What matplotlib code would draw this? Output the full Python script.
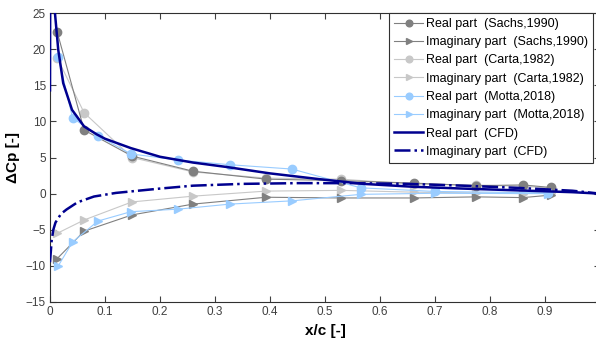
import matplotlib
matplotlib.use("Agg")
import matplotlib.pyplot as plt

plt.rcParams['font.family'] = ['Liberation Sans', 'DejaVu Sans']

# --- data ---
x_exp = [0.013, 0.062, 0.149, 0.26, 0.393, 0.53, 0.662, 0.775, 0.86, 0.911]
real_sachs = [22.4, 8.8, 5.2, 3.1, 2.0, 1.8, 1.45, 1.1, 1.2, 0.85]
imag_sachs = [-9.0, -5.2, -2.95, -1.45, -0.5, -0.6, -0.6, -0.45, -0.55, -0.2]
real_carta = [18.8, 11.2, 5.0, 3.0, 2.15, 2.0, 1.3, 1.2, 1.0, 0.8]
imag_carta = [-5.5, -3.65, -1.15, -0.35, 0.35, 0.45, 0.2, 0.1, 0.0, 0.1]

x_motta = [0.015, 0.041, 0.087, 0.147, 0.233, 0.327, 0.44, 0.565, 0.70, 0.905]
real_motta = [18.9, 10.5, 8.0, 5.5, 4.65, 4.0, 3.4, 0.8, 0.3, 0.1]
imag_motta = [-10.0, -6.7, -3.8, -2.5, -2.15, -1.45, -1.0, -0.1, 0.05, 0.0]

x_cfd_real = [0, 0.001, 0.004, 0.009, 0.015, 0.024, 0.04, 0.062, 0.085, 0.1, 0.147,
              0.2, 0.26, 0.32, 0.4, 0.49, 0.57, 0.66, 0.75, 0.85, 0.95, 1.0]
real_cfd = [14.3, 60, 35, 25, 19.9, 15.3, 11.6, 9.3, 8.2, 7.6, 6.3,
            5.1, 4.3, 3.7, 2.8, 2.0, 1.35, 0.95, 0.7, 0.45, 0.2, 0.0]
x_cfd_imag = [0, 0.003, 0.006, 0.01, 0.02, 0.03, 0.05, 0.08, 0.12, 0.16, 0.2,
              0.26, 0.35, 0.45, 0.55, 0.65, 0.75, 0.85, 0.95, 1.0]
imag_cfd = [-9.5, -6.5, -5.0, -4.0, -2.8, -2.2, -1.2, -0.4, 0.1, 0.4, 0.7,
            1.1, 1.35, 1.45, 1.45, 1.35, 1.1, 0.8, 0.4, 0.0]

x_ticks = [0, 0.1, 0.2, 0.3, 0.4, 0.5, 0.6, 0.7, 0.8, 0.9]
x_ticklabels = ['0', '0.1', '0.2', '0.3', '0.4', '0.5', '0.6', '0.7', '0.8', '0.9']
y_ticks = [-15, -10, -5, 0, 5, 10, 15, 20, 25]

labels = ['Real part  (Sachs,1990)', 'Imaginary part  (Sachs,1990)',
          'Real part  (Carta,1982)', 'Imaginary part  (Carta,1982)',
          'Real part  (Motta,2018)', 'Imaginary part  (Motta,2018)',
          'Real part  (CFD)', 'Imaginary part  (CFD)']

c_sachs = '#808080'
c_carta = '#c8c8c8'
c_motta = '#99ccff'
c_cfd = '#00008f'

fig = plt.figure(figsize=(5.96, 3.40), dpi=100)
ax = fig.add_axes([50/596, (340-302)/340, 550/596, 289/340])

ms = 6
lw = 0.8
ax.plot(x_exp, real_sachs, '-o', color=c_sachs, ms=ms, lw=lw, label=labels[0], zorder=3)
ax.plot(x_exp, imag_sachs, '->', color=c_sachs, ms=ms, lw=lw, label=labels[1], zorder=3)
ax.plot(x_exp, real_carta, '-o', color=c_carta, ms=ms, lw=lw, label=labels[2], zorder=2)
ax.plot(x_exp, imag_carta, '->', color=c_carta, ms=ms, lw=lw, label=labels[3], zorder=2)
ax.plot(x_motta, real_motta, '-o', color=c_motta, ms=ms, lw=lw, label=labels[4], zorder=4)
ax.plot(x_motta, imag_motta, '->', color=c_motta, ms=ms, lw=lw, label=labels[5], zorder=4)
ax.plot(x_cfd_real, real_cfd, '-', color=c_cfd, lw=1.8, label=labels[6], zorder=5)
ax.plot(x_cfd_imag, imag_cfd, '-.', color=c_cfd, lw=1.8, label=labels[7], zorder=5)

ax.set_xlim(0, 1)
ax.set_ylim(-15, 25)
ax.set_xticks(x_ticks)
ax.set_xticklabels(x_ticklabels)
ax.set_yticks(y_ticks)
ax.tick_params(direction='in', length=4, width=0.8, labelsize=8.5, colors='#404040',
               top=True, right=True, pad=3)
for s in ax.spines.values():
    s.set_color('#303030')
    s.set_linewidth(0.8)

ax.set_xlabel('x/c [-]', fontsize=11, fontweight='bold', labelpad=4)
ax.set_ylabel('ΔCp [-]', fontsize=11, fontweight='bold', labelpad=4)

leg = ax.legend(loc='upper right', bbox_to_anchor=(593/596, 1-13/340),
                bbox_transform=fig.transFigure, borderaxespad=0,
                fontsize=9, frameon=True, fancybox=False, framealpha=1,
                edgecolor='#303030', handlelength=2.3, handletextpad=0.25,
                labelspacing=0.5, borderpad=0.4, markerscale=0.8)
leg.get_frame().set_linewidth(0.8)

fig.savefig('out.png', dpi=100)
